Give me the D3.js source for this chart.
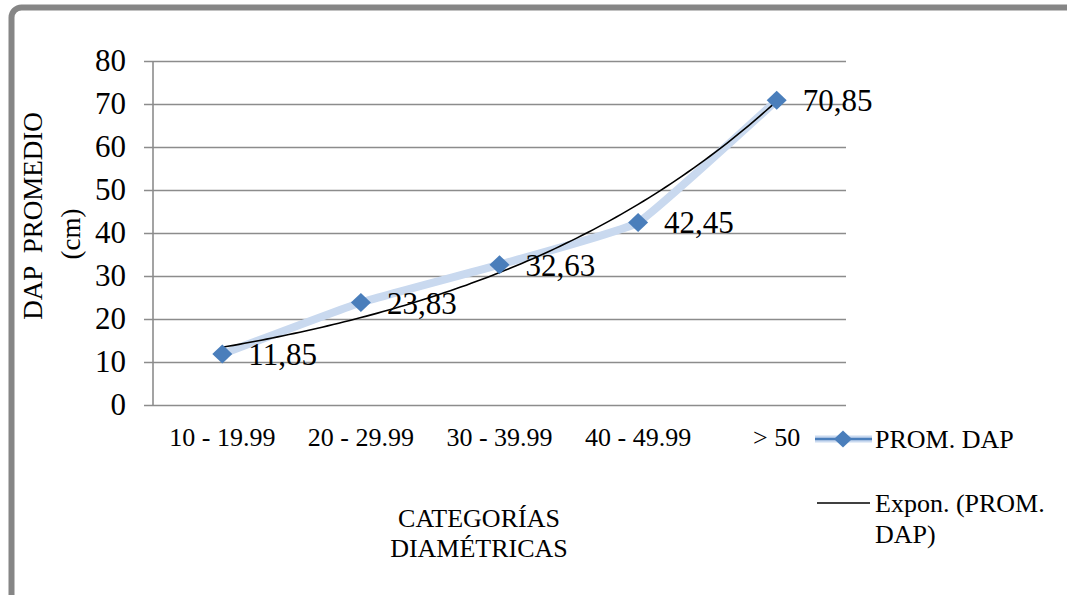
<!DOCTYPE html>
<html>
<head>
<meta charset="utf-8">
<script src="https://cdn.jsdelivr.net/npm/d3@7"></script>
<style>
  html, body { margin: 0; padding: 0; background: #fff; }
  svg { display: block; font-family: "Liberation Serif", "Times New Roman", serif; }
</style>
</head>
<body>
<svg id="chart" width="1067" height="595"></svg>
<script>
// Average DBH per diameter class
const categories = ["10 - 19.99", "20 - 29.99", "30 - 39.99", "40 - 49.99", "> 50"];
const promDap = [11.85, 23.83, 32.63, 42.45, 70.85];
const yTicks = [0, 10, 20, 30, 40, 50, 60, 70, 80];
const seriesName = "PROM. DAP";
const trendName = ["Expon. (PROM.", "DAP)"];
const xTitle = ["CATEGORÍAS", "DIAMÉTRICAS"];
const yTitle = ["DAP  PROMEDIO", "(cm)"];

const svg = d3.select("#chart");
const plot = { left: 153, right: 846, top: 61, bottom: 405 };

// Outer frame
svg.append("rect")
  .attr("x", 11.5).attr("y", 7.5)
  .attr("width", 1200).attr("height", 800)
  .attr("rx", 10)
  .attr("fill", "none")
  .attr("stroke", "#868686")
  .attr("stroke-width", 6);

const x = d3.scaleBand().domain(categories).range([plot.left, plot.right]);
const cx = c => x(c) + x.bandwidth() / 2;
const y = d3.scaleLinear().domain([0, 80]).range([plot.bottom, plot.top]);

// Horizontal gridlines and value labels
const yAxis = svg.append("g")
  .attr("transform", `translate(${plot.right},0)`)
  .call(d3.axisLeft(y).tickValues(yTicks).tickSize(plot.right - 144).tickPadding(18).tickFormat(d3.format("d")));
yAxis.select(".domain").remove();
yAxis.selectAll(".tick line").attr("stroke", "#8c8c8c").attr("stroke-width", 1.6);
yAxis.selectAll(".tick text")
  .attr("font-family", "Liberation Serif, serif")
  .attr("font-size", 31).attr("fill", "#000");

// Vertical axis line
svg.append("line")
  .attr("x1", plot.left).attr("x2", plot.left)
  .attr("y1", y(80)).attr("y2", y(0))
  .attr("stroke", "#8c8c8c").attr("stroke-width", 1.6);

// Category labels
const xAxis = svg.append("g")
  .attr("transform", `translate(0,${plot.bottom})`)
  .call(d3.axisBottom(x).tickSize(0).tickPadding(23));
xAxis.select(".domain").remove();
xAxis.selectAll(".tick text")
  .attr("font-family", "Liberation Serif, serif")
  .attr("font-size", 26).attr("fill", "#000");

// Series line (smoothed)
const pts = promDap.map((v, i) => [cx(categories[i]), y(v)]);
svg.append("path")
  .attr("d", d3.line().curve(d3.curveCardinal.tension(0.7))(pts))
  .attr("fill", "none")
  .attr("stroke", "#c9d9ef")
  .attr("stroke-width", 8)
  .attr("stroke-linejoin", "round");

// Exponential trend line fitted to the series (least squares on ln y)
const n = promDap.length;
const xs = promDap.map((_, i) => i + 1);
const ls = promDap.map(v => Math.log(v));
const mx = d3.mean(xs), ml = d3.mean(ls);
const b = d3.sum(xs.map((xi, i) => (xi - mx) * (ls[i] - ml))) / d3.sum(xs.map(xi => (xi - mx) ** 2));
const a = Math.exp(ml - b * mx);
const step = x.step();
const trendPts = d3.range(0, 101).map(k => {
  const t = 1 + (n - 1) * k / 100;
  return [cx(categories[0]) + (t - 1) * step, y(a * Math.exp(b * t))];
});
svg.append("path")
  .attr("d", d3.line()(trendPts))
  .attr("fill", "none")
  .attr("stroke", "#000")
  .attr("stroke-width", 1.6);

// Diamond markers
const diamond = (px, py, hw, hh) => `M${px},${py - hh}L${px + hw},${py}L${px},${py + hh}L${px - hw},${py}Z`;
svg.selectAll("path.marker")
  .data(pts)
  .join("path")
  .attr("class", "marker")
  .attr("d", d => diamond(d[0], d[1], 10, 9.5))
  .attr("fill", "#4a7ebb");

// Value labels
const fmt = d3.formatLocale({ decimal: ",", thousands: ".", grouping: [3], currency: ["", ""] }).format(".2f");
svg.selectAll("text.vlabel")
  .data(promDap)
  .join("text")
  .attr("class", "vlabel")
  .attr("x", (d, i) => cx(categories[i]) + 26)
  .attr("y", d => y(d) + 11)
  .attr("font-size", 31)
  .attr("fill", "#000")
  .text(d => fmt(d));

// Axis titles
svg.append("text")
  .attr("transform", "translate(42,216) rotate(-90)")
  .attr("text-anchor", "middle")
  .attr("font-size", 27)
  .attr("xml:space", "preserve")
  .style("white-space", "pre")
  .text(yTitle[0]);
svg.append("text")
  .attr("transform", "translate(80,234) rotate(-90)")
  .attr("text-anchor", "middle")
  .attr("font-size", 27)
  .text(yTitle[1]);

svg.selectAll("text.xtitle")
  .data(xTitle)
  .join("text")
  .attr("class", "xtitle")
  .attr("x", 479)
  .attr("y", (d, i) => 527 + i * 30)
  .attr("text-anchor", "middle")
  .attr("font-size", 26)
  .text(d => d);

// Legend
const lg = svg.append("g");
lg.append("line")
  .attr("x1", 815).attr("x2", 872).attr("y1", 439).attr("y2", 439)
  .attr("stroke", "#c9d9ef").attr("stroke-width", 7);
lg.append("line")
  .attr("x1", 815).attr("x2", 872).attr("y1", 439).attr("y2", 439)
  .attr("stroke", "#4a7ebb").attr("stroke-width", 2.5);
lg.append("path")
  .attr("d", diamond(843, 439, 9, 8.5))
  .attr("fill", "#4a7ebb");
lg.append("text")
  .attr("x", 875).attr("y", 448)
  .attr("font-size", 26)
  .text(seriesName);

lg.append("line")
  .attr("x1", 817).attr("x2", 870).attr("y1", 503).attr("y2", 503)
  .attr("stroke", "#000").attr("stroke-width", 1.6);
lg.selectAll("text.tl")
  .data(trendName)
  .join("text")
  .attr("class", "tl")
  .attr("x", 875)
  .attr("y", (d, i) => 512 + i * 31)
  .attr("font-size", 26)
  .text(d => d);
</script>
</body>
</html>
